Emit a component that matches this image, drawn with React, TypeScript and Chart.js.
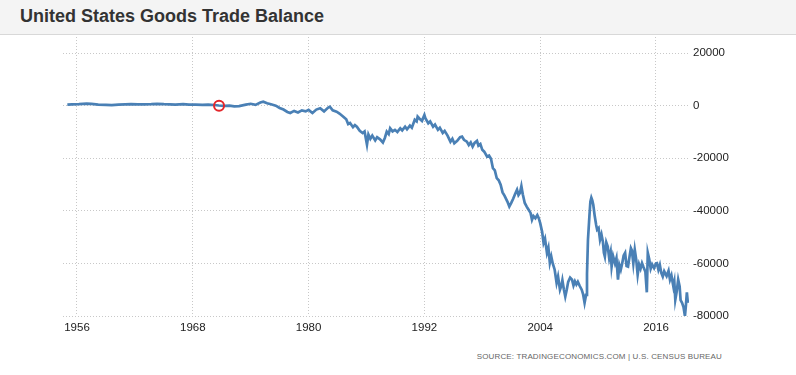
import React, { useEffect, useRef } from "react";
import { Chart, registerables } from "chart.js";

Chart.register(...registerables);

const TITLE = "United States Goods Trade Balance";
const SOURCE = "SOURCE: TRADINGECONOMICS.COM | U.S. CENSUS BUREAU";

const xTickYears = [1956, 1968, 1980, 1992, 2004, 2016];
const yTickValues = [-80000, -60000, -40000, -20000, 0, 20000];

const years = [
  1955.0, 1955.5, 1956.2, 1957.0, 1957.5, 1958.2, 1959.0, 1959.6, 1960.3, 1961.0,
  1961.6, 1962.3, 1963.0, 1963.7, 1964.3, 1965.0, 1965.6, 1966.2, 1967.0, 1967.6,
  1968.3, 1969.0, 1969.6, 1970.2, 1970.7, 1971.3, 1971.8, 1972.3, 1972.8, 1973.5,
  1974.0, 1974.5, 1975.0, 1975.3, 1975.7, 1976.1, 1976.6, 1977.0, 1977.4, 1977.8,
  1978.1, 1978.5, 1978.9, 1979.3, 1979.7, 1980.0, 1980.4, 1980.8, 1981.2, 1981.6,
  1982.0, 1982.2, 1982.5, 1982.9, 1983.2, 1983.6, 1983.9, 1984.1, 1984.3, 1984.6,
  1984.8, 1985.0, 1985.3, 1985.6, 1985.8, 1986.05, 1986.2, 1986.4, 1986.6, 1986.9,
  1987.1, 1987.4, 1987.7, 1987.9, 1988.1, 1988.3, 1988.45, 1988.7, 1988.95, 1989.2,
  1989.5, 1989.7, 1990.0, 1990.2, 1990.5, 1990.7, 1991.0, 1991.2, 1991.3, 1991.5,
  1991.75, 1992.0, 1992.1, 1992.4, 1992.6, 1992.9, 1993.1, 1993.4, 1993.6, 1993.9,
  1994.1, 1994.4, 1994.7, 1994.9, 1995.1, 1995.4, 1995.7, 1995.9, 1996.1, 1996.4,
  1996.6, 1996.8, 1997.0, 1997.2, 1997.45, 1997.6, 1997.8, 1998.0, 1998.2, 1998.5,
  1998.7, 1998.9, 1999.1, 1999.3, 1999.5, 1999.7, 1999.9, 2000.1, 2000.3, 2000.6,
  2000.8, 2001.0, 2001.2, 2001.4, 2001.6, 2001.75, 2001.9, 2002.05, 2002.2, 2002.4,
  2002.6, 2002.8, 2003.0, 2003.15, 2003.3, 2003.5, 2003.7, 2003.85, 2004.0, 2004.2,
  2004.35, 2004.5, 2004.7, 2004.85, 2005.0, 2005.15, 2005.3, 2005.5, 2005.7, 2005.85,
  2006.05, 2006.2, 2006.3, 2006.45, 2006.6, 2006.75, 2006.9, 2007.1, 2007.3, 2007.45,
  2007.6, 2007.75, 2007.9, 2008.1, 2008.3, 2008.45, 2008.6, 2008.75, 2008.85, 2008.95,
  2009.1, 2009.2, 2009.3, 2009.4, 2009.5, 2009.65, 2009.8, 2009.9, 2010.05, 2010.2,
  2010.35, 2010.5, 2010.6, 2010.7, 2010.85, 2011.0, 2011.15, 2011.3, 2011.4, 2011.55,
  2011.75, 2011.9, 2012.06, 2012.2, 2012.35, 2012.5, 2012.65, 2012.8, 2012.95, 2013.1,
  2013.25, 2013.4, 2013.5, 2013.65, 2013.8, 2013.95, 2014.1, 2014.25, 2014.4, 2014.55,
  2014.7, 2014.9, 2015.05, 2015.15, 2015.3, 2015.45, 2015.6, 2015.8, 2016.0, 2016.1,
  2016.25, 2016.4, 2016.55, 2016.7, 2016.85, 2017.1, 2017.3, 2017.45, 2017.6, 2017.8,
  2017.9, 2018.0, 2018.15, 2018.3, 2018.45, 2018.55, 2018.7, 2018.85, 2019.0, 2019.1,
  2019.2, 2019.3,
];

const balance = [
  400, 500, 600, 800, 700, 400, 300, 200, 400, 500,
  600, 450, 500, 550, 700, 550, 500, 400, 600, 400,
  350, 300, 350, 250, 50, -100, 0, -300, -200, 400,
  700, 300, 1200, 1500, 900, 500, 0, -900, -1500, -2400,
  -2800, -2000, -2600, -1800, -2200, -1600, -2800, -1500, -1000, -2200,
  -800, -400, -1800, -2300, -3000, -4200, -5200, -7000, -6600, -8200,
  -7400, -8000, -9600, -10400, -9800, -14800, -11000, -12600, -11400, -13200,
  -12000, -12800, -14000, -12300, -9900, -10800, -8600, -9800, -9200, -10000,
  -8600, -9400, -8000, -9000, -7600, -8400, -5400, -6000, -4200, -5000,
  -5800, -3600, -4800, -6700, -6000, -8000, -7200, -9200, -8400, -10400,
  -9600, -11400, -13700, -12600, -14300, -13400, -12000, -11800, -13000, -13700,
  -15000, -14000, -15600, -14200, -13400, -15200, -14600, -16800, -17500, -19400,
  -19000, -20200, -23800, -24600, -27600, -28400, -30100, -33000, -34200, -36500,
  -38400, -37000, -35400, -33600, -32000, -34000, -33200, -30600, -33800, -37000,
  -38400, -39600, -40800, -43400, -42000, -42800, -41600, -42800, -44700, -48000,
  -52200, -50600, -56000, -54000, -59800, -57400, -60000, -62400, -67400, -65000,
  -70000, -68400, -66400, -69800, -72600, -70000, -67000, -65400, -66200, -68400,
  -66800, -68000, -67000, -68600, -70000, -71800, -75000, -72000, -64000, -51000,
  -42000, -36500, -35000, -36000, -37700, -42000, -45400, -47200, -46600, -51000,
  -49000, -51800, -56000, -57400, -52000, -53600, -58000, -55600, -61200, -57200,
  -60000, -58000, -66200, -60600, -62400, -59900, -57000, -56000, -61000, -61200,
  -57600, -54200, -55000, -60000, -54800, -58600, -64300, -60400, -62000, -59900,
  -61400, -63200, -71000, -56000, -58400, -62000, -60400, -61800, -60000, -59900,
  -62400, -60600, -63600, -65000, -63000, -64800, -62800, -66200, -64600, -68800,
  -67000, -73800, -70600, -66200, -68800, -74000, -75000, -76600, -80000, -76000,
  -71000, -75000,
];

const markerYear = [1970.72];
const markerValue = [0];

export default function App() {
  const canvasRef = useRef<HTMLCanvasElement | null>(null);

  useEffect(() => {
    const canvas = canvasRef.current;
    if (!canvas) return;
    const lineData = years.map((x, i) => ({ x, y: balance[i] }));
    const markerData = markerYear.map((x, i) => ({ x, y: markerValue[i] }));
    const chart = new Chart(canvas, {
      type: "line",
      data: {
        datasets: [
          {
            data: markerData,
            showLine: false,
            pointRadius: 5,
            pointBorderWidth: 2,
            pointBorderColor: "#e3262b",
            pointBackgroundColor: "rgba(0,0,0,0)",
            order: 0,
          },
          {
            data: lineData,
            borderColor: "#4a80b5",
            borderWidth: 2.7,
            pointRadius: 0,
            tension: 0,
            fill: false,
            order: 1,
          },
        ],
      },
      options: {
        animation: false,
        responsive: false,
        devicePixelRatio: 1,
        layout: { padding: { left: 63, top: 37, right: 0, bottom: 0 } },
        plugins: { legend: { display: false }, tooltip: { enabled: false } },
        scales: {
          x: {
            type: "linear",
            min: 1954.55,
            max: 2019.42,
            afterBuildTicks: (scale: any) => {
              scale.ticks = xTickYears.map((v) => ({ value: v }));
            },
            afterFit: (scale: any) => {
              scale.height = 29;
            },
            grid: { color: "#c8c8c8", lineWidth: 1, drawTicks: false },
            border: { display: false, dash: [1, 2] },
            ticks: {
              padding: 5,
              color: "#222",
              font: { family: "Arial, 'Liberation Sans', sans-serif", size: 11.5 },
              maxRotation: 0,
              autoSkip: false,
              callback: (v: any) => String(v),
            },
          },
          y: {
            type: "linear",
            position: "right",
            min: -80000,
            max: 26100,
            afterBuildTicks: (scale: any) => {
              scale.ticks = yTickValues.map((v) => ({ value: v }));
            },
            afterFit: (scale: any) => {
              scale.width = 107;
            },
            grid: { color: "#c8c8c8", lineWidth: 1, drawTicks: false },
            border: { display: false, dash: [1, 2] },
            ticks: {
              padding: 4,
              color: "#222",
              font: { family: "Arial, 'Liberation Sans', sans-serif", size: 11.5 },
              callback: (v: any) => String(v),
            },
          },
        },
      },
    });
    return () => chart.destroy();
  }, []);

  return (
    <div
      style={{
        position: "absolute",
        left: 0,
        top: 0,
        width: 796,
        height: 375,
        background: "#fff",
        overflow: "hidden",
        fontFamily: "Arial, 'Liberation Sans', sans-serif",
      }}
    >
      <canvas
        ref={canvasRef}
        width={796}
        height={345}
        style={{ position: "absolute", left: 0, top: 0, width: 796, height: 345 }}
      />
      <div
        style={{
          position: "absolute",
          left: 0,
          top: 0,
          width: 796,
          height: 35,
          background: "#f4f4f4",
          borderBottom: "1px solid #d8d8d8",
          boxSizing: "border-box",
        }}
      >
        <div
          style={{
            position: "absolute",
            left: 20,
            top: 6,
            fontSize: 18,
            lineHeight: "20px",
            fontWeight: "bold",
            color: "#333",
            whiteSpace: "nowrap",
          }}
        >
          {TITLE}
        </div>
      </div>
      <div
        style={{
          position: "absolute",
          right: 74,
          top: 352,
          fontSize: 8,
          lineHeight: "10px",
          letterSpacing: 0.15,
          color: "#666",
          whiteSpace: "nowrap",
        }}
      >
        {SOURCE}
      </div>
    </div>
  );
}
